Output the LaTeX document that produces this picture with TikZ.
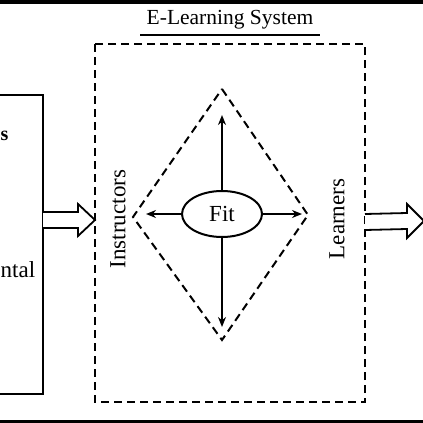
\documentclass[tikz,border=0pt]{standalone}
\usepackage{fontspec}
\setmainfont{Liberation Serif}
\usepackage{tikz}
\usetikzlibrary{shapes.geometric, arrows.meta, positioning, calc}

\tikzset{
  dashline/.style={line width=2pt, dash pattern=on 8pt off 5pt},
  fitarrow/.style={line width=2pt, -{Stealth[length=10pt, width=8pt]}},
  hollowarrow/.style={line width=1.8pt, fill=white, line join=miter},
  label/.style={font=\fontsize{23}{23}\selectfont},
}

\begin{document}
\begin{tikzpicture}[x=1pt, y=-1pt]
  \useasboundingbox (0,0) rectangle (423,423);
  \clip (0,0) rectangle (423,423);

  % Frame bars (TOP and BOTTOM)
  \fill[black] (0,0) rectangle (423,4);
  \fill[black] (0,420) rectangle (423,423);

  % Left box (cut by the page edge)
  \draw[line width=2pt] (-20,95) -- (43,95) -- (43,394) -- (-20,394);
  \coordinate (boxR) at (43,220);
  \node[font=\fontsize{20}{20}\selectfont\bfseries, anchor=west, inner sep=0pt] (head) at (0.5,136) {s};
  \node[label, anchor=west, inner sep=0pt] (envtxt) at (0.5,270) {ntal};

  % Title
  \node[font=\fontsize{21.5}{21.5}\selectfont] (title) at (230,20) {E-Learning System};
  \draw[line width=1.8pt] (140,35) -- (320,35);

  % System frame
  \draw[dashline] (95,44) rectangle (365,402);
  \coordinate (sysL) at (95,220);
  \coordinate (sysR) at (365,222);

  % Diamond
  \coordinate (top) at (222,89);
  \coordinate (right) at (308,215);
  \coordinate (bottom) at (222,340);
  \coordinate (left) at (133,217);
  \draw[dashline] (top) -- (right) -- (bottom) -- (left) -- cycle;

  % Fit and its arrows
  \node[ellipse, draw, line width=2pt, minimum width=80pt, minimum height=46pt, fill=white, label] (fit) at (222,214) {Fit};
  \coordinate (upEnd) at (222,115);
  \coordinate (downEnd) at (222,327);
  \coordinate (leftEnd) at (146,214);
  \coordinate (rightEnd) at (302,214);
  \draw[fitarrow] (fit.north) -- (upEnd);
  \draw[fitarrow] (fit.south) -- (downEnd);
  \draw[fitarrow] (fit.west) -- (leftEnd);
  \draw[fitarrow] (fit.east) -- (rightEnd);

  % Side labels
  \node[label, rotate=90] (instr) at (118,219) {Instructors};
  \node[label, rotate=90] (learn) at (337,219) {Learners};

  % Hollow arrows in and out
  \draw[hollowarrow] ($(boxR)+(0,-8)$) -- ($(sysL)+(-17,-8)$) -- ($(sysL)+(-17,-16)$) -- (sysL)
    -- ($(sysL)+(-17,16)$) -- ($(sysL)+(-17,8)$) -- ($(boxR)+(0,8)$);
  \coordinate (outTip) at (424,221);
  \draw[hollowarrow] ($(sysR)+(0,-8)$) -- ($(outTip)+(-17,-8)$) -- ($(outTip)+(-17,-17)$) -- (outTip)
    -- ($(outTip)+(-17,17)$) -- ($(outTip)+(-17,8)$) -- ($(sysR)+(0,8)$);
\end{tikzpicture}
\end{document}
